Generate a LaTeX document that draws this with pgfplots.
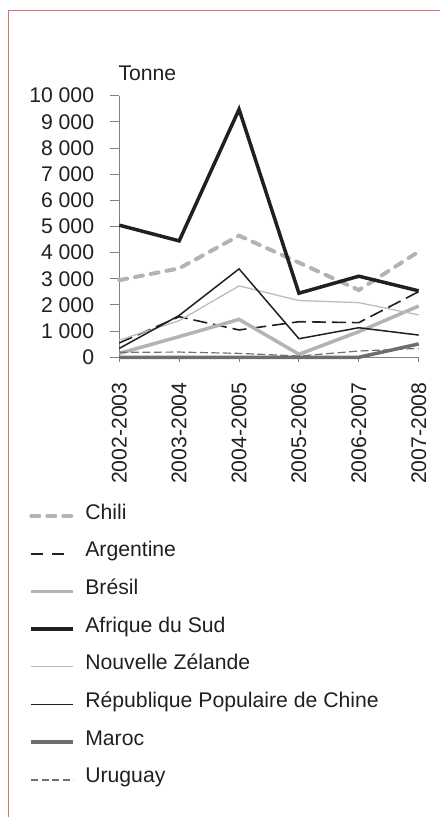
\documentclass[border=0pt]{standalone}
\usepackage{fontspec}
\setmainfont{Liberation Sans}
\usepackage{pgfplots}
\pgfplotsset{compat=1.18}
\definecolor{framered}{HTML}{DC6E6E}
\definecolor{axisgray}{HTML}{808080}
\definecolor{textcol}{HTML}{231F20}
\definecolor{lgray}{HTML}{B3B3B3}
\definecolor{nzgray}{HTML}{BCBCBC}
\definecolor{mgray}{HTML}{6D6E71}
\definecolor{ugray}{HTML}{707070}
\newcommand{\chartfont}{\fontsize{21.2bp}{24bp}\selectfont}
\pgfplotsset{
  arglegend/.style={legend image code/.code={\draw[##1, dash pattern=on 12bp off 9bp] (0bp,-2bp) -- (33bp,-2bp);}},
  urulegend/.style={legend image code/.code={\draw[##1, dash pattern=on 7bp off 3.5bp] (0bp,-2bp) -- (42bp,-2bp);}},
}
\begin{document}
\begin{tikzpicture}
\path[use as bounding box] (0,0) rectangle (440bp,817bp);
\draw[framered, line width=1bp] (8.3bp,0) -- (8.3bp,806.7bp) -- (440bp,806.7bp);
\begin{axis}[
  at={(119.3bp,459.7bp)}, anchor=south west,
  scale only axis, width=299.4bp, height=261.6bp,
  xmin=0, xmax=5, ymin=0, ymax=10000,
  scaled y ticks=false,
  clip=false,
  axis lines=left,
  axis line style={-, draw=axisgray, line width=1bp},
  xtick={0,1,2,3,4,5},
  xticklabels={2002-2003,2003-2004,2004-2005,2005-2006,2006-2007,2007-2008},
  ytick={0,1000,2000,3000,4000,5000,6000,7000,8000,9000,10000},
  yticklabels={0,1 000,2 000,3 000,4 000,5 000,6 000,7 000,8 000,9 000,10 000},
  tick align=outside,
  major tick length=9bp,
  xtick style={/pgfplots/major tick length=5bp},
  tick style={draw=axisgray, line width=1bp},
  ticklabel style={font=\chartfont, text=textcol},
  xticklabel style={rotate=90, anchor=east, inner sep=0pt, xshift=-16bp},
  yticklabel style={anchor=east, inner sep=0pt, xshift=-16bp},
  legend cell align=left,
  legend style={at={(-0.3006,-0.5646)}, anchor=north west, draw=none, fill=none,
    inner sep=0pt, outer sep=0pt, row sep=19.7bp, column sep=10bp,
    font=\chartfont, text=textcol,
    nodes={inner sep=0pt, text height=14bp, text depth=4bp}},
  legend image code/.code={\draw[#1] (0bp,-2bp) -- (42bp,-2bp);},
]
\addplot[lgray, line width=4bp, line cap=round, dash pattern=on 8bp off 8bp] coordinates {(0,2950)(1,3400)(2,4650)(3,3620)(4,2570)(5,4040)};
\addlegendentry{Chili}
\addplot[textcol, line width=1.6bp, dash pattern=on 14bp off 6bp, arglegend] coordinates {(0,550)(1,1550)(2,1045)(3,1360)(4,1325)(5,2510)};
\addlegendentry{Argentine}
\addplot[lgray, line width=3.5bp] coordinates {(0,150)(1,790)(2,1450)(3,115)(4,980)(5,1960)};
\addlegendentry{Brésil}
\addplot[textcol, line width=3.5bp] coordinates {(0,5050)(1,4450)(2,9480)(3,2450)(4,3100)(5,2540)};
\addlegendentry{Afrique du Sud}
\addplot[nzgray, line width=1.3bp] coordinates {(0,660)(1,1400)(2,2730)(3,2170)(4,2090)(5,1620)};
\addlegendentry{Nouvelle Zélande}
\addplot[textcol, line width=1.5bp] coordinates {(0,340)(1,1600)(2,3380)(3,710)(4,1130)(5,850)};
\addlegendentry{République Populaire de Chine}
\addplot[mgray, line width=3.5bp] coordinates {(0,0)(1,0)(2,0)(3,0)(4,0)(5,510)};
\addlegendentry{Maroc}
\addplot[ugray, line width=1.2bp, dash pattern=on 8bp off 3.5bp, urulegend] coordinates {(0,190)(1,200)(2,150)(3,50)(4,240)(5,340)};
\addlegendentry{Uruguay}
\node[anchor=base west, font=\chartfont, text=textcol, inner sep=0pt] at (rel axis cs:0,1) [yshift=14.7bp, xshift=-1bp] {Tonne};
\end{axis}
\end{tikzpicture}
\end{document}
